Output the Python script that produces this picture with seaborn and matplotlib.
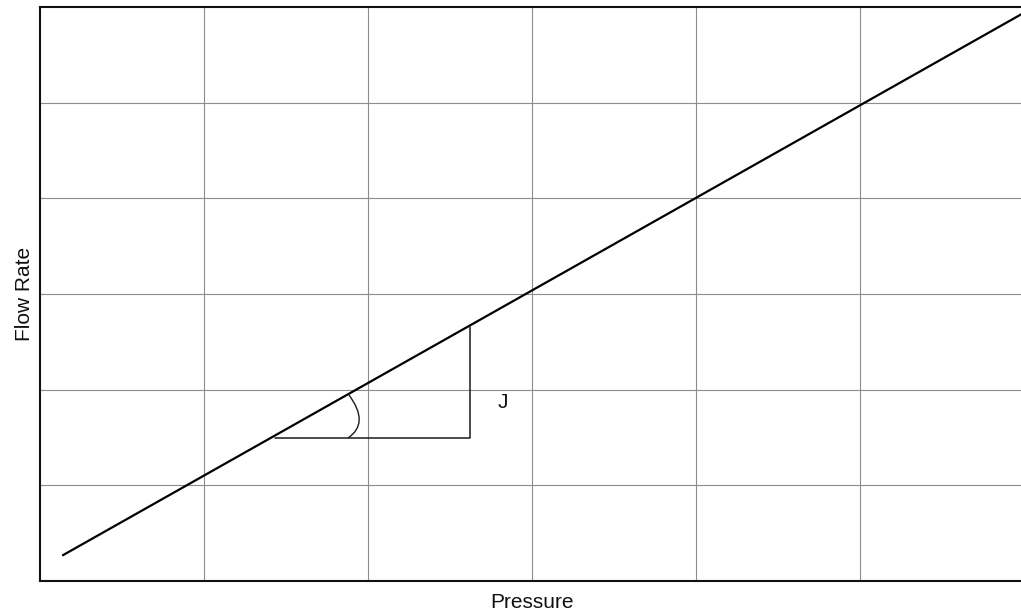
import matplotlib
matplotlib.use("Agg")
import matplotlib.pyplot as plt
from matplotlib.path import Path
from matplotlib.patches import PathPatch
import pandas as pd
import seaborn as sns

# Linear relation between pressure and flow rate
pressure = [0.14, 6.0]
flow_rate = [0.27, 5.94]

# Slope triangle (run, then rise) marking the productivity index J
tri_x = [1.43, 2.62, 2.62]
tri_y = [1.49, 1.49, 2.66]

# Angle arc at the foot of the slope triangle (quadratic curve)
arc_x = [1.878, 2.012, 1.884]
arc_y = [1.494, 1.650, 1.944]

label_j = "J"
label_j_pos = (2.82, 1.87)

grid_ticks = [1, 2, 3, 4, 5]

sns.set_theme(style="white")
plt.rcParams["font.family"] = ["Liberation Sans", "DejaVu Sans"]

fig = plt.figure(figsize=(10.21, 6.14), dpi=100)
ax = fig.add_axes([40 / 1021, 33 / 614, 984 / 1021, 574 / 614])

df = pd.DataFrame({"Pressure": pressure, "Flow Rate": flow_rate})
sns.lineplot(data=df, x="Pressure", y="Flow Rate", ax=ax, color="black",
             linewidth=1.6, sort=False, zorder=3)

ax.plot(tri_x, tri_y, color="#1a1a1a", linewidth=1.1, zorder=3)

arc_path = Path(list(zip(arc_x, arc_y)), [Path.MOVETO, Path.CURVE3, Path.CURVE3])
ax.add_patch(PathPatch(arc_path, facecolor="none", edgecolor="#1a1a1a",
                       linewidth=1.0, zorder=3))

ax.text(label_j_pos[0], label_j_pos[1], label_j, fontsize=15, color="#111111",
        ha="center", va="center")

ax.set_xlim(0, 6)
ax.set_ylim(0, 6)
ax.set_xticks(grid_ticks)
ax.set_yticks(grid_ticks)
ax.set_xticklabels([])
ax.set_yticklabels([])
ax.tick_params(length=0)
ax.grid(True, color="#8c8c8c", linewidth=0.8)

for side in ["left", "bottom", "top"]:
    ax.spines[side].set_color("#111111")
    ax.spines[side].set_linewidth(1.5)
ax.spines["right"].set_visible(False)

ax.set_xlabel("Pressure", fontsize=15, color="#111111", labelpad=5)
ax.set_ylabel("Flow Rate", fontsize=15, color="#111111", labelpad=1)

fig.savefig("out.png", dpi=100, facecolor="white")
